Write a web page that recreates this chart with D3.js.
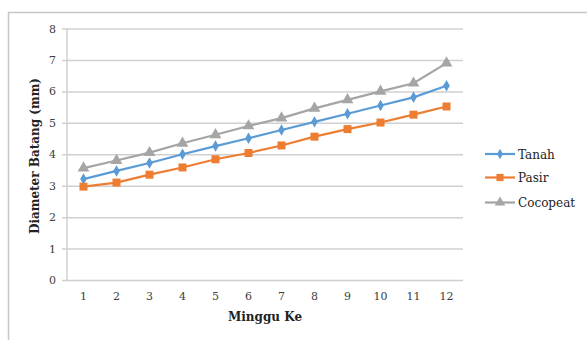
<!DOCTYPE html>
<html><head><meta charset="utf-8">
<script src="https://cdn.jsdelivr.net/npm/d3@7"></script>
<style>body{margin:0;background:#fff}svg{display:block}</style>
</head><body><svg id="c" width="587" height="340"></svg>
<script>
const weeks = ["1","2","3","4","5","6","7","8","9","10","11","12"];
const tanah = [3.21,3.47,3.72,4.0,4.26,4.51,4.77,5.03,5.29,5.55,5.81,6.18];
const pasir = [2.97,3.10,3.35,3.58,3.84,4.04,4.28,4.56,4.80,5.01,5.26,5.52];
const cocopeat = [3.56,3.80,4.05,4.35,4.62,4.90,5.15,5.46,5.73,6.0,6.26,6.90];
const seriesNames = ["Tanah","Pasir","Cocopeat"];
const yTicks = [0,1,2,3,4,5,6,7,8];
const colors = ["#5B9BD5","#ED7D31","#A5A5A5"];
const seriesVals = [tanah,pasir,cocopeat];

const svg = d3.select("#c");
const font = "'DejaVu Serif', serif";
// outer border
svg.append("rect").attr("x",8.5).attr("y",12.5).attr("width",600).attr("height",400)
  .attr("fill","none").attr("stroke","#c6c6c6").attr("stroke-width",1.5);

const L=67, R=463, T=28.5, B=280;
const x = d3.scaleBand().domain(weeks).range([L,R]);
const y = d3.scaleLinear().domain([0,8]).range([B,T]);

// gridlines
const yAxis = d3.axisLeft(y).tickValues(yTicks).tickSize(-(R-L)).tickFormat(d3.format("d"));
const gy = svg.append("g").attr("transform",`translate(${L},0)`).call(yAxis);
gy.select(".domain").remove();
gy.selectAll(".tick line").attr("stroke","#d0d0d0").attr("stroke-width",1.5).attr("x1",-5);
gy.selectAll(".tick text").attr("x",-11).attr("fill","#404040")
  .style("font-family",font).style("font-size","11px");
// y axis line
svg.append("line").attr("x1",L).attr("x2",L).attr("y1",T).attr("y2",B)
  .attr("stroke","#d0d0d0").attr("stroke-width",1.5);

const xAxis = d3.axisBottom(x).tickSize(0);
const gx = svg.append("g").attr("transform",`translate(0,${B})`).call(xAxis);
gx.select(".domain").remove();
gx.selectAll(".tick text").attr("y",12).attr("fill","#404040")
  .style("font-family",font).style("font-size","11px");

// titles
svg.append("text").attr("x",265).attr("y",321).attr("text-anchor","middle")
  .style("font-family",font).style("font-size","12px").style("font-weight","bold").attr("fill","#222")
  .text("Minggu Ke");
svg.append("text").attr("transform",`translate(39,156) rotate(-90)`).attr("text-anchor","middle")
  .style("font-family",font).style("font-size","12px").style("font-weight","bold").attr("fill","#222")
  .text("Diameter Batang (mm)");

const cx = d => x(d)+x.bandwidth()/2;
const line = d3.line().x((d,i)=>cx(weeks[i])).y(d=>y(d));
const symbols = [d3.symbolDiamond, d3.symbolSquare, d3.symbolTriangle];
const sizes = [38, 64, 60];

seriesVals.forEach((vals,k)=>{
  svg.append("path").datum(vals).attr("d",line).attr("fill","none")
    .attr("stroke",colors[k]).attr("stroke-width",2.2);
  svg.selectAll(null).data(vals).enter().append("path")
    .attr("transform",(d,i)=>`translate(${cx(weeks[i])},${y(d)})`)
    .attr("d",d3.symbol().type(symbols[k]).size(sizes[k]))
    .attr("fill",colors[k]);
});

// legend
const ly = [154,177.5,202.5];
seriesNames.forEach((n,k)=>{
  svg.append("line").attr("x1",485).attr("x2",515).attr("y1",ly[k]).attr("y2",ly[k])
    .attr("stroke",colors[k]).attr("stroke-width",2.2);
  svg.append("path").attr("transform",`translate(500,${ly[k]})`)
    .attr("d",d3.symbol().type(symbols[k]).size(sizes[k]*0.8)).attr("fill",colors[k]);
  svg.append("text").attr("x",518).attr("y",ly[k]+4.5).text(n)
    .style("font-family",font).style("font-size","12px").attr("fill","#222");
});
</script></body></html>
